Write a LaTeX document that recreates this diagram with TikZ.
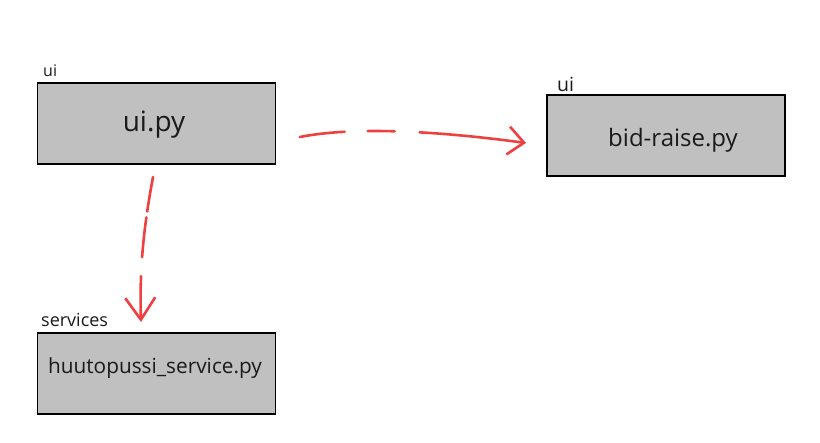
\documentclass[tikz,border=0pt]{standalone}
\usepackage{fontspec}
\setmainfont{Open Sans}
\usetikzlibrary{arrows.meta}
\definecolor{boxgray}{RGB}{192,192,192}
\definecolor{penred}{RGB}{238,64,64}
\definecolor{inkblack}{RGB}{26,26,26}
\tikzset{
  modbox/.style={draw=black, line width=1.3pt, fill=boxgray, minimum width=238pt, minimum height=81pt, inner sep=0pt},
  pkglabel/.style={anchor=base west, inner sep=0pt, text=inkblack},
  modname/.style={anchor=base, inner sep=0pt, text=inkblack},
  dep/.style={penred, line width=2.6pt, line cap=round, line join=round}
}
\begin{document}
\begin{tikzpicture}[x=1pt,y=-1pt]
        \useasboundingbox (0,0) rectangle (820,443);

        % Moduli
        \node[modbox] (uibox) at (156.5,123.5) {};
        \node[modbox] (bidbox) at (666,135.5) {};
        \node[modbox] (servbox) at (156.5,373.5) {};

        % Nomi dei file
        \node[modname, font=\fontsize{28}{30}\selectfont] (uipy) at (154,132) {ui.py};
        \node[modname, font=\fontsize{24}{26}\selectfont] (bidpy) at (673,147) {bid-raise.py};
        \node[modname, font=\fontsize{20.8}{23}\selectfont] (servpy) at (155,374) {huutopussi\_service.py};

        % Pacchetti
        \node[pkglabel, font=\fontsize{16}{18}\selectfont] (uipkg) at (43,77) {ui};
        \node[pkglabel, font=\fontsize{19.5}{21}\selectfont] (bidpkg) at (557,92) {ui};
        \node[pkglabel, font=\fontsize{18}{20}\selectfont] (servpkg) at (41,327) {services};

        % Dipendenze (tratteggio a mano)
        \coordinate (h1) at (300,137);
        \coordinate (h2) at (526,143);
        \coordinate (v1) at (153,177);
        \coordinate (v2) at (141,322);
        \draw[dep, dash pattern=on 45pt off 23pt on 27pt off 25pt on 300pt,
              -{Straight Barb[length=16pt, width=28pt, line width=2.6pt]}]
            (h1) .. controls (350,127) and (430,130) .. (h2);
        \draw[dep, dash pattern=on 35pt off 6pt on 40pt off 19pt on 300pt,
              -{Straight Barb[length=22pt, width=30pt, line width=2.6pt]}]
            (v1) .. controls (146,215) and (139,260) .. (v2);

    \end{tikzpicture}
\end{document}
